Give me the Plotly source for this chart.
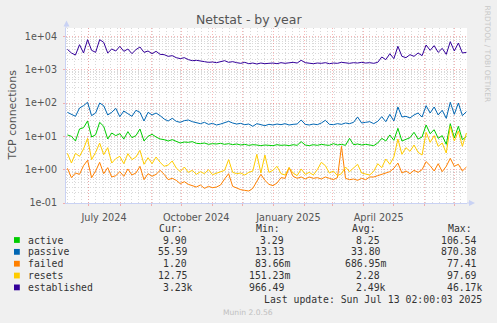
import plotly.graph_objects as go
import pandas as pd

# ---------------- data (daily-ish samples) ----------------
dates = pd.date_range("2024-06-09 12:00", "2025-07-12 12:00", periods=100)

active = [11.0, 10.0, 7.24, 16.6, 18.2, 28.8, 9.55, 11.2, 26.3, 20.0,
          8.32, 12.6, 10.5, 12.0, 8.32, 13.8, 9.12, 10.5, 16.6, 7.24,
          10.0, 11.5, 9.55, 8.32, 7.94, 7.24, 7.94, 7.24, 6.31, 6.76,
          6.61, 6.92, 6.17, 6.03, 6.31, 5.75, 6.03, 5.89, 6.17, 5.75,
          6.03, 5.62, 5.89, 5.50, 5.75, 5.37, 5.62, 5.50, 5.25, 5.50,
          5.37, 5.25, 5.62, 5.37, 5.50, 5.25, 5.62, 5.37, 6.92, 5.50,
          5.25, 5.62, 5.37, 5.75, 5.50, 5.37, 6.03, 5.50, 5.75, 5.37,
          8.71, 5.62, 5.89, 5.50, 5.75, 5.62, 5.25, 6.31, 8.71, 7.24,
          11.0, 7.59, 17.4, 7.24, 7.94, 9.12, 13.2, 8.32, 9.55, 21.9,
          12.0, 15.8, 8.71, 10.5, 5.75, 24.0, 8.91, 20.0, 7.94, 9.90]

passive = [52.5, 44.7, 39.8, 70.8, 83.2, 105, 41.7, 50.1, 100, 83.2,
           43.7, 52.5, 69.2, 38.9, 57.5, 47.9, 39.8, 60.3, 52.5, 28.8,
           52.5, 43.7, 50.1, 41.7, 33.1, 28.8, 34.7, 28.2, 26.3, 29.5,
           30.9, 27.5, 25.1, 24.0, 26.3, 22.9, 24.5, 21.9, 23.4, 26.3,
           28.2, 25.1, 23.4, 24.5, 22.4, 23.4, 20.0, 24.0, 22.4, 20.9,
           22.9, 21.9, 23.4, 22.4, 24.0, 21.9, 22.9, 23.4, 30.9, 22.9,
           21.9, 23.4, 22.4, 25.1, 30.2, 22.9, 22.4, 24.0, 22.9, 25.1,
           24.0, 26.3, 38.0, 25.1, 26.3, 27.5, 24.0, 28.2, 38.9, 27.5,
           45.7, 28.8, 75.9, 38.0, 39.8, 35.5, 43.7, 50.1, 38.0, 83.2,
           50.1, 75.9, 43.7, 60.3, 34.7, 105, 45.7, 100, 41.7, 55.0]

failed = [1.10, 0.575, 0.794, 0.724, 1.32, 1.91, 0.575, 0.912, 1.66, 0.759,
          1.15, 0.603, 0.661, 0.871, 0.631, 1.05, 0.692, 0.794, 1.26, 0.501,
          0.759, 0.631, 0.724, 0.955, 0.724, 0.501, 0.550, 0.479, 0.380, 0.437,
          0.363, 0.331, 0.302, 0.347, 0.275, 0.316, 0.288, 0.302, 0.347, 0.525,
          0.759, 0.316, 0.275, 0.251, 0.240, 0.229, 0.275, 0.437, 0.724, 0.479,
          0.363, 0.331, 0.398, 0.575, 0.550, 1.15, 0.631, 0.550, 0.603, 0.525,
          0.603, 0.550, 0.575, 0.525, 0.603, 0.550, 0.501, 0.575, 5.01, 0.550,
          0.501, 0.525, 0.479, 0.550, 0.501, 0.603, 0.603, 0.661, 0.724, 0.794,
          0.871, 1.10, 1.58, 0.794, 0.912, 0.759, 0.955, 0.832, 1.00, 1.74,
          1.32, 0.912, 1.51, 0.871, 1.26, 2.19, 1.26, 1.45, 0.912, 1.20]

resets = [3.09, 1.58, 3.09, 2.51, 4.17, 8.71, 2.00, 3.31, 6.31, 2.82,
          4.57, 1.58, 2.14, 2.51, 1.51, 3.02, 2.00, 2.40, 3.80, 1.45,
          2.29, 1.51, 2.40, 1.66, 1.26, 1.38, 1.82, 1.12, 0.871, 1.20,
          0.832, 0.955, 0.724, 0.871, 0.759, 1.00, 0.708, 0.794, 0.891, 0.955,
          2.00, 0.832, 0.759, 0.794, 0.692, 0.832, 0.912, 2.88, 0.794, 2.75,
          0.832, 0.955, 1.26, 0.759, 0.692, 1.15, 0.794, 0.661, 1.05, 0.724,
          0.832, 0.692, 1.00, 1.66, 1.32, 0.794, 0.912, 0.661, 0.759, 1.20,
          0.871, 1.10, 1.45, 0.794, 0.724, 0.692, 0.891, 1.51, 1.15, 2.09,
          1.45, 2.40, 8.32, 2.88, 4.57, 3.55, 5.50, 3.31, 2.75, 13.2,
          6.61, 10.5, 5.01, 6.31, 3.16, 20.0, 7.24, 14.5, 5.01, 12.6]

established = [4070, 3160, 2750, 5620, 3160, 7940, 3800, 3310, 7940, 6610,
               3160, 4170, 3630, 5010, 3550, 4170, 3020, 3980, 4790, 3310,
               3630, 3020, 3550, 2880, 2820, 2510, 2630, 2290, 2140, 2290,
               2000, 1860, 1910, 1780, 1740, 1660, 1700, 1620, 1740, 1860,
               1660, 1740, 1620, 1550, 1660, 1510, 1580, 1480, 1580, 1510,
               1550, 1580, 1510, 1620, 1550, 1580, 1660, 1580, 1910, 1620,
               1550, 1510, 1580, 1550, 1620, 1510, 1580, 1550, 1660, 1580,
               1550, 1620, 1580, 1660, 1580, 1620, 1550, 1660, 2400, 2000,
               3020, 2140, 5010, 2510, 2290, 2820, 2510, 3160, 2630, 5500,
               3800, 5250, 3310, 4370, 2880, 6920, 3630, 6310, 3160, 3310]

names = ["active", "passive", "failed", "resets", "established"]
colors = ["#00cc00", "#0066b3", "#ff8000", "#ffcc00", "#330099"]
series = [active, passive, failed, resets, established]

cur_vals = ["9.90", "55.59", "1.20", "12.75", "3.23k"]
min_vals = ["3.29", "13.13", "83.66m", "151.23m", "966.49"]
avg_vals = ["8.25", "33.80", "686.95m", "2.28", "2.49k"]
max_vals = ["106.54", "870.38", "77.41", "97.69", "46.17k"]

month_ticks = pd.date_range("2024-07-01", "2025-07-01", freq="MS")
month_labels = {"2024-07": "July 2024", "2024-10": "October 2024",
                "2025-01": "January 2025", "2025-04": "April 2025"}
decades = [0.1, 1, 10, 100, 1000, 10000]
decade_labels = ["1e-01", "1e+00", "1e+01", "1e+02", "1e+03", "1e+04"]
minor_log = [m * d for d in [0.1, 1, 10, 100, 1000, 10000] for m in range(2, 10)]

# ---------------- geometry ----------------
W, H = 497, 323
PL, PR, PT, PB = 66, 467, 28, 203   # plot area in pixels


def P(px, py):
    return (px - PL) / (PR - PL), (PB - py) / (PB - PT)


fig = go.Figure()
for name, col, ys in zip(names, colors, series):
    fig.add_trace(go.Scatter(x=dates, y=ys, mode="lines", name=name,
                             line=dict(color=col, width=1), hoverinfo="skip"))

RED = "rgba(240,120,120,0.55)"
GRAY = "rgba(185,185,185,0.55)"
AXC = "#c9d2f4"

fig.update_xaxes(
    type="date",
    range=["2024-06-08 02:00", "2025-07-13 02:00"],
    tickmode="array",
    tickvals=list(month_ticks),
    ticktext=[month_labels.get(d.strftime("%Y-%m"), "") for d in month_ticks],
    ticklabelshift=15,
    ticklabelstandoff=3,
    tickfont=dict(family="DejaVu Sans", size=9.7, color="#555555"),
    showgrid=True, gridcolor=RED, griddash="1px,2px", gridwidth=1,
    ticks="outside", ticklen=2, tickcolor=RED,
    showline=True, linecolor=AXC, linewidth=1,
    zeroline=False,
    minor=dict(tickmode="linear", tick0="2024-06-10", dtick=7 * 86400000,
               showgrid=True, gridcolor=GRAY, griddash="1px,2px", gridwidth=1,
               ticks=""),
)
fig.update_yaxes(
    type="log",
    range=[-1, 4.25],
    tickmode="array",
    tickvals=decades,
    ticktext=decade_labels,
    tickfont=dict(family="DejaVu Sans", size=9.6, color="#555555"),
    ticklabelstandoff=4,
    showgrid=True, gridcolor=RED, griddash="1px,2px", gridwidth=1,
    ticks="outside", ticklen=2, tickcolor=RED,
    showline=True, linecolor=AXC, linewidth=1,
    zeroline=False,
    minor=dict(tickmode="array", tickvals=minor_log,
               showgrid=True, gridcolor=GRAY, griddash="1px,2px", gridwidth=1,
               ticks=""),
)

annotations = []
shapes = []


def ann(px, py, text, xanchor="left", yanchor="middle", size=9.8,
        color="#333333", family="DejaVu Sans Mono", angle=0):
    x, y = P(px, py)
    annotations.append(dict(x=x, y=y, xref="paper", yref="paper", text=text,
                            showarrow=False, xanchor=xanchor, yanchor=yanchor,
                            borderpad=0, textangle=angle,
                            font=dict(family=family, size=size, color=color)))


# title, axis title, watermark
ann(248.5, 19.5, "Netstat - by year", xanchor="center", size=12.5,
    color="#555555", family="DejaVu Sans")
ann(12, 115.5, "TCP connections", xanchor="center", size=10.9,
    color="#555555", family="DejaVu Sans", angle=-90)
ann(487.5, 54, "RRDTOOL / TOBI OETIKER", xanchor="center", size=7.5,
    color="#c8c8c8", family="DejaVu Sans", angle=90)
ann(248, 312, "Munin 2.0.56", xanchor="center", size=7.6,
    color="#c0c0c0", family="DejaVu Sans")

# legend table
for txt, px in [("Cur:", 158.3), ("Min:", 255), ("Avg:", 351), ("Max:", 446.7)]:
    ann(px, 228, txt)

col_right = [193.7, 291, 386.7, 482.7]
for k, (name, col) in enumerate(zip(names, colors)):
    ry = 240 + 11.85 * k
    x0, y0 = P(14, ry + 2.9)
    x1, y1 = P(19.8, ry - 2.9)
    shapes.append(dict(type="rect", xref="paper", yref="paper",
                       x0=x0, y0=y0, x1=x1, y1=y1,
                       fillcolor=col, line=dict(width=0)))
    ann(26.7, ry, name)
    for vals, rx in zip([cur_vals, min_vals, avg_vals, max_vals], col_right):
        v = vals[k]
        if v[-1].isdigit():
            v = v + "\u00a0"
        ann(rx, ry, v, xanchor="right")

ann(482.7, 299.7, "Last update: Sun Jul 13 02:00:03 2025", xanchor="right")

# axis arrows
ax0, ay0 = P(66, 203)
tip_x, tip_y = P(66.5, 20.5)
b1x, b1y = P(63.5, 26.5)
b2x, b2y = P(69.5, 26.5)
shapes.append(dict(type="line", xref="paper", yref="paper", x0=ax0, y0=1,
                   x1=ax0, y1=P(66, 24)[1], line=dict(color=AXC, width=1)))
shapes.append(dict(type="path", xref="paper", yref="paper",
                   path=f"M{tip_x},{tip_y} L{b1x},{b1y} L{b2x},{b2y} Z",
                   fillcolor=AXC, line=dict(width=0)))
rx_end = P(471, 203)[0]
shapes.append(dict(type="line", xref="paper", yref="paper", x0=1, y0=0,
                   x1=rx_end, y1=0, line=dict(color=AXC, width=1)))
t2x, t2y = P(475, 203)
c1x, c1y = P(469, 200)
c2x, c2y = P(469, 206)
shapes.append(dict(type="path", xref="paper", yref="paper",
                   path=f"M{t2x},{t2y} L{c1x},{c1y} L{c2x},{c2y} Z",
                   fillcolor=AXC, line=dict(width=0)))

fig.update_layout(
    width=W, height=H,
    margin=dict(l=PL, r=W - PR, t=PT, b=H - PB, pad=0),
    paper_bgcolor="#f0f0f0", plot_bgcolor="#ffffff",
    showlegend=False, hovermode=False,
    annotations=annotations, shapes=shapes,
)

fig.write_html("out.html", config={"displayModeBar": False})
